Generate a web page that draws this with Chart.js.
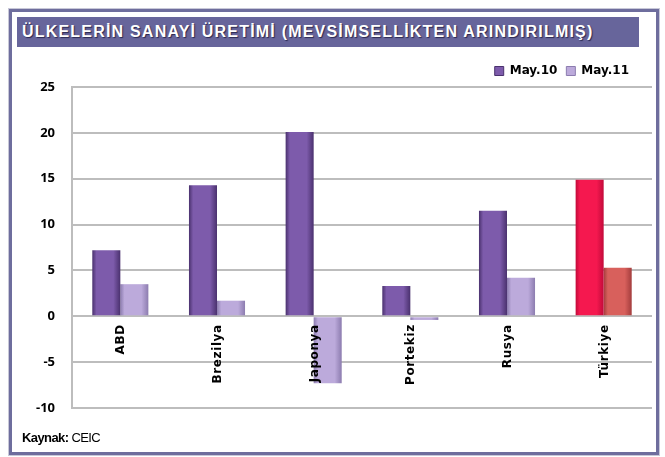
<!DOCTYPE html>
<html>
<head>
<meta charset="utf-8">
<script src="https://cdn.jsdelivr.net/npm/chart.js@4/dist/chart.umd.min.js"></script>
<style>
  body { margin: 0; background: #fff; width: 665px; height: 457px; overflow: hidden; }
  .frame {
    position: absolute; left: 9px; top: 9px; width: 644px; height: 440px;
    border: 3px solid #6e6d9d; box-shadow: 0 0 0 1px #c8c8d8;
  }
  .title {
    position: absolute; left: 17px; top: 17px; width: 622px; height: 30px;
    background: #67659b; color: #fff;
    font: bold 16px "Liberation Sans", Arial, sans-serif; letter-spacing: 1.2px;
    line-height: 30px; padding-left: 5px; box-sizing: border-box;
    text-shadow: 1px 1px 1px #2a2850;
  }
  .source {
    position: absolute; left: 22px; top: 430px;
    font: 13px "Liberation Sans", Arial, sans-serif; letter-spacing: -0.6px; color: #000;
  }
  .chart-box { position: absolute; left: 12px; top: 50px; width: 644px; height: 402px; }
</style>
</head>
<body>
<div class="frame"></div>
<div class="title">ÜLKELERİN SANAYİ ÜRETİMİ (MEVSİMSELLİKTEN ARINDIRILMIŞ)</div>
<div class="chart-box"><canvas id="chart"></canvas></div>
<div class="source"><b>Kaynak:</b> CEIC</div>

<script>
// DATA
const countries = ["ABD", "Brezilya", "Japonya", "Portekiz", "Rusya", "Türkiye"];
const may10 = [7.2, 14.3, 20.1, 3.3, 11.5, 14.9];
const may11 = [3.5, 1.7, -7.3, -0.4, 4.2, 5.3];
const seriesNames = ["May.10", "May.11"];
const yTicks = [-10, -5, 0, 5, 10, 15, 20, 25];

// COLORS (edge, middle) - Türkiye is highlighted
const purple = ["#4a316e", "#7d5bab"];
const lilac = ["#8c7caf", "#bcaadb"];
const red = ["#c20a3a", "#f5184f"];
const salmon = ["#a33d3d", "#d8605c"];

const ctx = document.getElementById("chart").getContext("2d");

// horizontal gradient over each bar for the bevel look
function barFill(pair, hlPair) {
  return (c) => {
    const colors = countries[c.dataIndex] == "Türkiye" ? hlPair : pair;
    const el = c.chart.getDatasetMeta(c.datasetIndex).data[c.dataIndex];
    if (!el || !el.width) return colors[1];
    const x0 = el.x - el.width / 2, x1 = el.x + el.width / 2;
    const g = c.chart.ctx.createLinearGradient(x0, 0, x1, 0);
    g.addColorStop(0, colors[0]);
    g.addColorStop(0.15, colors[1]);
    g.addColorStop(0.75, colors[1]);
    g.addColorStop(1, colors[0]);
    return g;
  };
}

// COUNTRY LABELS next to the zero line
const zeroLabels = {
  id: "zeroLabels",
  afterLayout(chart) {
    // legend sits a bit left of the plot's right edge
    if (chart.legend) chart.legend.right -= 14;
  },
  afterDatasetsDraw(chart) {
    const xs = chart.scales.x, ys = chart.scales.y;
    const c = chart.ctx;
    c.save();
    c.font = "bold 12px 'DejaVu Sans', Arial, sans-serif";
    c.letterSpacing = "0.6px";
    c.fillStyle = "#000";
    c.textAlign = "right";
    c.textBaseline = "middle";
    countries.forEach((name, i) => {
      c.save();
      c.translate(xs.getPixelForValue(i) + 1, ys.getPixelForValue(0) + 8);
      c.rotate(-Math.PI / 2);
      c.fillText(name, 0, 0);
      c.restore();
    });
    c.restore();
  },
};

const my_chart = new Chart(ctx, {
  type: "bar",
  data: {
    labels: countries,
    datasets: [
      { label: seriesNames[0], data: may10, backgroundColor: barFill(purple, red), borderWidth: 0 },
      { label: seriesNames[1], data: may11, backgroundColor: barFill(lilac, salmon), borderWidth: 0 },
    ],
  },
  options: {
    responsive: true,
    maintainAspectRatio: false,
    animation: false,
    layout: { padding: { top: 6, right: 4, bottom: 44, left: 0 } },
    datasets: { bar: { categoryPercentage: 0.58, barPercentage: 1 } },
    plugins: {
      legend: {
        position: "top",
        align: "end",
        labels: {
          boxWidth: 9,
          boxHeight: 9,
          padding: 9,
          color: "#000",
          font: { family: "'DejaVu Sans', Arial, sans-serif", size: 12, weight: "bold" },
          generateLabels: () => [
            { text: seriesNames[0], fillStyle: purple[1], strokeStyle: purple[0], lineWidth: 1, datasetIndex: 0 },
            { text: seriesNames[1], fillStyle: lilac[1], strokeStyle: lilac[0], lineWidth: 1, datasetIndex: 1 },
          ],
        },
      },
      tooltip: { enabled: false },
    },
    scales: {
      x: {
        ticks: { display: false },
        grid: { display: false, drawTicks: false },
        border: { display: false },
      },
      y: {
        min: -10,
        max: 25,
        afterBuildTicks: (s) => { s.ticks = yTicks.map((v) => ({ value: v })); },
        afterFit: (s) => { s.width = 60; },
        ticks: {
          padding: 17,
          color: "#000",
          font: { family: "'Open Sans', sans-serif", size: 13, weight: "bold" },
        },
        grid: { color: "#bdbdbd", lineWidth: 2, drawTicks: false },
        border: { display: true, color: "#bdbdbd", width: 2 },
      },
    },
  },
  plugins: [zeroLabels],
});

// second pass so the gradients can use the laid-out bar positions
my_chart.update();
</script>
</body>
</html>
